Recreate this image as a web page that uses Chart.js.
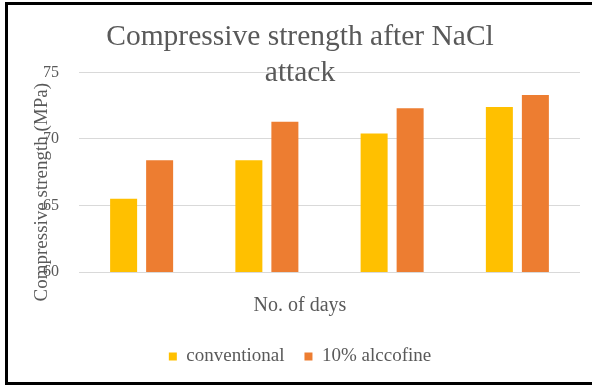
<!DOCTYPE html>
<html>
<head>
<meta charset="utf-8">
<script src="https://cdn.jsdelivr.net/npm/chart.js@4.4.1/dist/chart.umd.min.js"></script>
<style>
    html, body { margin: 0; padding: 0; background: #fff; overflow: hidden; }
    #wrap  { position: relative; width: 592px; height: 385px; overflow: hidden; }
    #frame { position: absolute; left: 5px; top: 2px; width: 600px; height: 377px;
             border-left: 3px solid #000; border-top: 3px solid #000; border-bottom: 3px solid #000;
             border-right: none; pointer-events: none; }
    canvas { display: block; }
</style>
</head>
<body>
<div id="wrap">
    <canvas id="chart" width="592" height="385"></canvas>
    <div id="frame"></div>
</div>
<script>
// ── DATA ──
// the source chart prints no day labels under the bars
const days         = ['', '', '', ''];
const conventional = [65.5, 68.4, 70.4, 72.4];
const alccofine    = [68.4, 71.3, 72.3, 73.3];
const yTicks       = [60, 65, 70, 75];

const TITLE   = ['Compressive strength after NaCl', 'attack'];
const X_TITLE = 'No. of days';
const Y_TITLE = 'Compressive strength (MPa)';

// ── PALETTE ──
const YELLOW = '#FFC000';
const ORANGE = '#ED7D31';
const GRAY   = '#595959';
const GRID   = '#D9D9D9';
const SERIF  = "'Liberation Serif','Times New Roman',serif";

Chart.defaults.font.family = SERIF;
Chart.defaults.color       = GRAY;

// y title sits over the tick labels, a little below the plot middle
const yTitlePlugin = {
    id: 'yTitle',
    afterDraw(chart) {
        const { ctx, chartArea } = chart;
        ctx.save();
        ctx.translate(chartArea.left - 37, (chartArea.top + chartArea.bottom) / 2 + 20);
        ctx.rotate(-Math.PI / 2);
        ctx.font = '19px ' + SERIF;
        ctx.fillStyle = GRAY;
        ctx.textAlign = 'center';
        ctx.textBaseline = 'middle';
        ctx.fillText(Y_TITLE, 0, 0);
        ctx.restore();
    }
};

new Chart(document.getElementById('chart'), {
    type: 'bar',
    data: {
        labels: days,
        datasets: [
            { label: 'conventional',  data: conventional, backgroundColor: YELLOW },
            { label: '10% alccofine', data: alccofine,    backgroundColor: ORANGE }
        ]
    },
    options: {
        responsive: false,
        animation: false,
        categoryPercentage: 0.575,
        barPercentage: 0.75,
        layout: { padding: { left: 20, right: 12, top: 0, bottom: 9 } },
        plugins: {
            title: {
                display: true,
                text: TITLE,
                color: GRAY,
                font: { size: 29.5, weight: 'normal' },
                padding: { top: 20, bottom: -18.4 }
            },
            subtitle: {
                display: true,
                position: 'bottom',
                text: X_TITLE,
                color: GRAY,
                font: { size: 20, weight: 'normal' },
                padding: { top: 22, bottom: 9 }
            },
            legend: {
                position: 'bottom',
                weight: 3000,
                labels: {
                    color: GRAY,
                    font: { size: 19 },
                    boxWidth: 8,
                    boxHeight: 8,
                    padding: 20
                }
            },
            tooltip: { enabled: false }
        },
        scales: {
            x: {
                grid: { display: false, drawTicks: false },
                border: { display: false },
                ticks: { display: false }
            },
            y: {
                min: yTicks[0],
                max: yTicks[yTicks.length - 1],
                afterBuildTicks: (scale) => { scale.ticks = yTicks.map(v => ({ value: v })); },
                afterFit: (scale) => { scale.width = 59; },
                grid: { color: GRID, lineWidth: 1, drawTicks: false },
                border: { display: false },
                ticks: { color: GRAY, font: { size: 16 }, padding: 20 }
            }
        }
    },
    plugins: [yTitlePlugin]
});
</script>
</body>
</html>
